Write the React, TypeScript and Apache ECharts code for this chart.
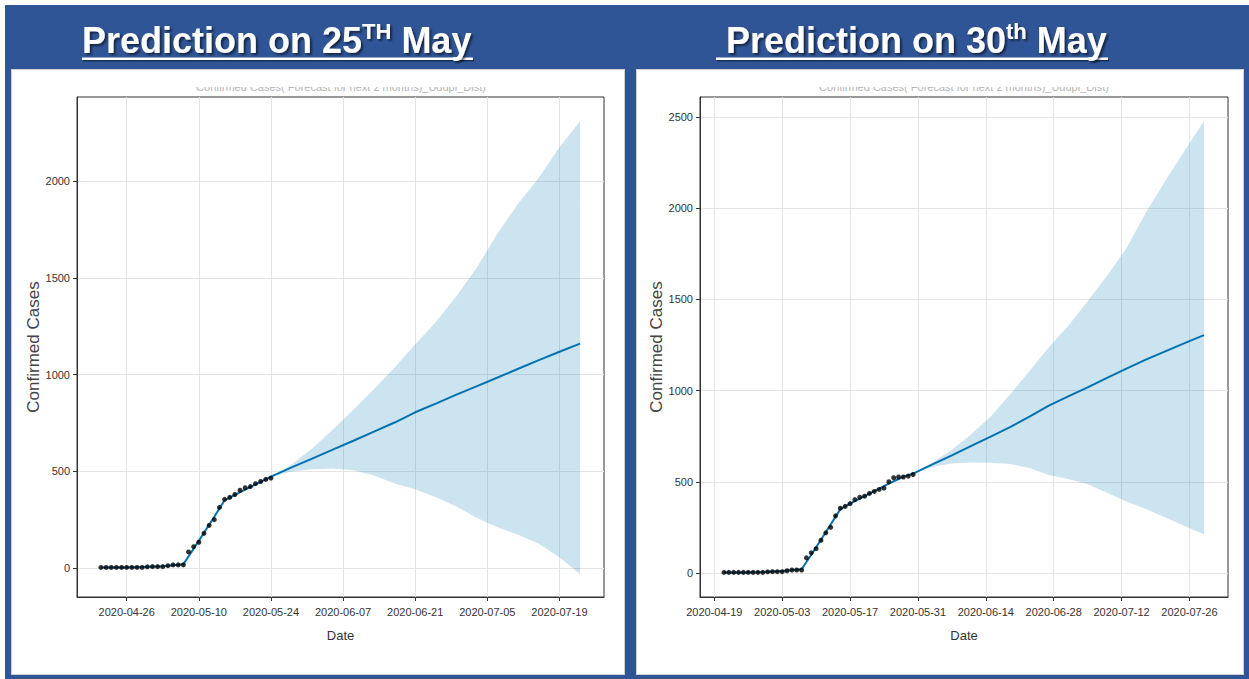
import React, { useEffect, useRef } from "react";
import * as echarts from "echarts";

// ---------- data ----------
const actualDates = [
  "2020-04-21", "2020-04-22", "2020-04-23", "2020-04-24", "2020-04-25", "2020-04-26", "2020-04-27", "2020-04-28",
  "2020-04-29", "2020-04-30", "2020-05-01", "2020-05-02", "2020-05-03", "2020-05-04", "2020-05-05", "2020-05-06",
  "2020-05-07", "2020-05-08", "2020-05-09", "2020-05-10", "2020-05-11", "2020-05-12", "2020-05-13", "2020-05-14",
  "2020-05-15", "2020-05-16", "2020-05-17", "2020-05-18", "2020-05-19", "2020-05-20", "2020-05-21", "2020-05-22",
  "2020-05-23", "2020-05-24", "2020-05-25", "2020-05-26", "2020-05-27", "2020-05-28", "2020-05-29", "2020-05-30",
];
const actualCases = [
  3, 3, 3, 3, 3, 3, 3, 3,
  3, 6, 7, 7, 7, 12, 16, 16,
  16, 83, 110, 133, 179, 220, 250, 313,
  355, 365, 380, 402, 415, 421, 436, 447,
  458, 465, 500, 522, 526, 526, 531, 540,
];
const obsCountL = 34; // through 2020-05-24
const obsCountR = 40; // through 2020-05-30

// fitted trend over the history (25 May model)
const fitHistDatesL = ["2020-04-21", "2020-04-25", "2020-04-29", "2020-05-03", "2020-05-07", "2020-05-09", "2020-05-11", "2020-05-13", "2020-05-15", "2020-05-17", "2020-05-19", "2020-05-21", "2020-05-22"];
const fitHistL = [2, 3, 5, 9, 19, 100, 182, 265, 350, 378, 405, 432, 445];
// forecast (25 May model)
const fcstDatesL = ["2020-05-24", "2020-05-28", "2020-06-01", "2020-06-05", "2020-06-09", "2020-06-13", "2020-06-17", "2020-06-21", "2020-06-25", "2020-06-29", "2020-07-03", "2020-07-07", "2020-07-11", "2020-07-15", "2020-07-19", "2020-07-23"];
const fcstL = [472, 520, 565, 612, 658, 705, 752, 805, 850, 896, 940, 985, 1030, 1075, 1118, 1160];
const upperL = [472, 535, 618, 715, 818, 924, 1036, 1156, 1272, 1405, 1555, 1730, 1885, 2018, 2175, 2310];
const lowerL = [472, 499, 510, 514, 505, 478, 437, 407, 366, 318, 258, 210, 172, 125, 55, -32];

// fitted trend over the history (30 May model)
const fitHistDatesR = ["2020-04-21", "2020-04-25", "2020-04-29", "2020-05-03", "2020-05-07", "2020-05-09", "2020-05-11", "2020-05-13", "2020-05-15", "2020-05-17", "2020-05-19", "2020-05-21", "2020-05-23", "2020-05-25", "2020-05-27", "2020-05-28"];
const fitHistR = [2, 3, 5, 10, 20, 100, 182, 266, 350, 380, 408, 435, 462, 490, 515, 528];
// forecast (30 May model)
const fcstDatesR = ["2020-05-30", "2020-06-03", "2020-06-07", "2020-06-11", "2020-06-15", "2020-06-19", "2020-06-23", "2020-06-27", "2020-07-01", "2020-07-05", "2020-07-09", "2020-07-13", "2020-07-17", "2020-07-21", "2020-07-25", "2020-07-29"];
const fcstR = [545, 595, 645, 697, 748, 800, 857, 918, 968, 1018, 1070, 1120, 1170, 1215, 1260, 1304];
const upperR = [545, 605, 676, 760, 858, 978, 1108, 1237, 1356, 1490, 1630, 1780, 1975, 2150, 2315, 2478];
const lowerR = [545, 582, 600, 606, 604, 598, 575, 537, 515, 487, 440, 392, 350, 304, 258, 212];

// tick labels
const xTickDatesL = ["2020-04-26", "2020-05-10", "2020-05-24", "2020-06-07", "2020-06-21", "2020-07-05", "2020-07-19"];
const xTickDatesR = ["2020-04-19", "2020-05-03", "2020-05-17", "2020-05-31", "2020-06-14", "2020-06-28", "2020-07-12", "2020-07-26"];
const yTicksL = [0, 500, 1000, 1500, 2000];
const yTicksR = [0, 500, 1000, 1500, 2000, 2500];

const chartTitle = "Confirmed Cases( Forecast for next 2 months)_Udupi_Dist)";

// ---------- helpers ----------
const ORIGIN = Date.UTC(2020, 3, 21);
const DAY = 86400000;
const day = (s: string) => {
  const [y, m, d] = s.split("-").map(Number);
  return (Date.UTC(y, m - 1, d) - ORIGIN) / DAY;
};
const fmt = (v: number) => new Date(ORIGIN + Math.round(v) * DAY).toISOString().slice(0, 10);

const SANS = "'Liberation Sans', Arial, sans-serif";
const BLUE = "#0072B2";

function buildSeries(
  idx: number,
  nObs: number,
  histDates: string[],
  histVals: number[],
  fDates: string[],
  fVals: number[],
  up: number[],
  lo: number[]
) {
  const fitAll = [...histDates, ...fDates].map((d, i) => [day(d), [...histVals, ...fVals][i]]);
  const bandData = fDates.map((d, i) => [day(d), lo[i], up[i]]);
  return [
    {
      type: "custom",
      xAxisIndex: idx,
      yAxisIndex: idx,
      data: bandData,
      encode: { x: 0, y: [1, 2] },
      clip: true,
      silent: true,
      z: 1,
      renderItem: (params: any, api: any) => {
        if (params.dataIndex !== 0) return null;
        const top = bandData.map((p) => api.coord([p[0], p[2]]));
        const bot = bandData.map((p) => api.coord([p[0], p[1]])).reverse();
        return {
          type: "polygon",
          shape: { points: [...top, ...bot] },
          style: { fill: "rgba(0,114,178,0.2)" },
        };
      },
    },
    {
      type: "line",
      xAxisIndex: idx,
      yAxisIndex: idx,
      data: fitAll,
      symbol: "none",
      lineStyle: { color: BLUE, width: 2 },
      z: 3,
    },
    {
      type: "scatter",
      xAxisIndex: idx,
      yAxisIndex: idx,
      data: actualDates.slice(0, nObs).map((d, i) => [day(d), actualCases[i]]),
      symbolSize: 5,
      itemStyle: { color: "#000" },
      z: 4,
    },
  ];
}

function xAxisFor(idx: number, min: number, max: number, ticks: string[]) {
  const vals = ticks.map(day);
  return {
    type: "value",
    gridIndex: idx,
    min,
    max,
    name: "Date",
    nameLocation: "middle",
    nameGap: 32,
    nameTextStyle: { fontFamily: SANS, fontSize: 13, color: "#333" },
    axisLine: { show: true, onZero: false, lineStyle: { color: "#333", width: 1 } },
    axisTick: { show: true, length: 4, customValues: vals, lineStyle: { color: "#333" } },
    axisLabel: {
      customValues: vals,
      formatter: (v: number) => fmt(v),
      fontFamily: SANS,
      fontSize: 11,
      color: "#333",
      margin: 9,
    },
    splitLine: { show: true, lineStyle: { color: "#e4e4e4", width: 1 } },
  };
}

function yAxisFor(idx: number, min: number, max: number, ticks: number[]) {
  return {
    type: "value",
    gridIndex: idx,
    min,
    max,
    name: "Confirmed Cases",
    nameLocation: "middle",
    nameGap: 26,
    nameRotate: 90,
    nameTextStyle: { fontFamily: SANS, fontSize: 17, color: "#444" },
    axisLine: { show: true, onZero: false, lineStyle: { color: "#333", width: 1 } },
    axisTick: { show: true, length: 4, customValues: ticks, lineStyle: { color: "#333" } },
    axisLabel: {
      customValues: ticks,
      formatter: (v: number) => String(v),
      fontFamily: SANS,
      fontSize: 11,
      color: "#333",
      margin: 7,
    },
    splitLine: { show: true, lineStyle: { color: "#e4e4e4", width: 1 } },
  };
}

function titleGraphic(x: number, main1: string, sup: string, main2: string, lineX1: number, lineX2: number) {
  const shadow = {
    textShadowColor: "rgba(0,0,0,0.55)",
    textShadowBlur: 2,
    textShadowOffsetX: 2,
    textShadowOffsetY: 2,
  };
  return [
    {
      type: "rect",
      z: 9,
      shape: { x: lineX1 + 1, y: 59, width: lineX2 - lineX1, height: 2.5 },
      style: { fill: "rgba(0,0,0,0.45)" },
    },
    {
      type: "rect",
      z: 10,
      shape: { x: lineX1, y: 57.5, width: lineX2 - lineX1, height: 2.5 },
      style: { fill: "#ffffff" },
    },
    {
      type: "text",
      x,
      y: 40,
      z: 11,
      style: {
        text: `{a|${main1}}{s|${sup}}{a|${main2}}`,
        verticalAlign: "middle",
        align: "left",
        rich: {
          a: { fontSize: 36, fontWeight: "bold", fontFamily: SANS, fill: "#ffffff", lineHeight: 40, ...shadow },
          s: { fontSize: 22, fontWeight: "bold", fontFamily: SANS, fill: "#ffffff", verticalAlign: "top", lineHeight: 40, padding: [0, 0, 14, 0], ...shadow },
        },
      },
    },
  ];
}

function faintTitle(cx: number) {
  return [
    {
      type: "text",
      x: cx,
      y: 87,
      z: 5,
      style: { text: chartTitle, align: "center", verticalAlign: "middle", fontSize: 11, fontFamily: SANS, fill: "#b4b4b4" },
    },
    {
      type: "rect",
      z: 6,
      shape: { x: cx - 180, y: 72, width: 360, height: 15 },
      style: { fill: "#ffffff" },
    },
  ];
}

export default function App() {
  const ref = useRef<HTMLDivElement>(null);

  useEffect(() => {
    if (!ref.current) return;
    const chart = echarts.init(ref.current, undefined, { renderer: "svg" });
    const option = {
      animation: false,
      backgroundColor: "transparent",
      grid: [
        { left: 77, top: 97, width: 527, height: 500, show: true, borderColor: "#333", borderWidth: 1, backgroundColor: "transparent" },
        { left: 700, top: 97, width: 528, height: 500, show: true, borderColor: "#333", borderWidth: 1, backgroundColor: "transparent" },
      ],
      xAxis: [xAxisFor(0, -4.65, 97.65, xTickDatesL), xAxisFor(1, -4.95, 103.95, xTickDatesR)],
      yAxis: [yAxisFor(0, -150, 2435, yTicksL), yAxisFor(1, -132, 2610, yTicksR)],
      series: [
        ...buildSeries(0, obsCountL, fitHistDatesL, fitHistL, fcstDatesL, fcstL, upperL, lowerL),
        ...buildSeries(1, obsCountR, fitHistDatesR, fitHistR, fcstDatesR, fcstR, upperR, lowerR),
      ],
      graphic: [
        ...titleGraphic(82, "Prediction on 25", "TH", " May", 82, 473),
        ...titleGraphic(716, " Prediction on 30", "th", " May", 716, 1108),
        ...faintTitle(341),
        ...faintTitle(964),
      ],
    };
    chart.setOption(option as any);
    return () => chart.dispose();
  }, []);

  return (
    <div style={{ position: "fixed", left: 0, top: 0, width: 1249, height: 679, background: "#ffffff", overflow: "hidden" }}>
      <div style={{ position: "absolute", left: 5, top: 5, right: 0, bottom: 0, background: "#2F5597" }} />
      <div style={{ position: "absolute", left: 11, top: 69, width: 614, height: 606, background: "#ffffff", border: "1px solid #cfcfcf", boxSizing: "border-box" }} />
      <div style={{ position: "absolute", left: 636, top: 69, width: 608, height: 606, background: "#ffffff", border: "1px solid #cfcfcf", boxSizing: "border-box" }} />
      <div ref={ref} style={{ position: "absolute", left: 0, top: 0, width: 1249, height: 679 }} />
    </div>
  );
}
